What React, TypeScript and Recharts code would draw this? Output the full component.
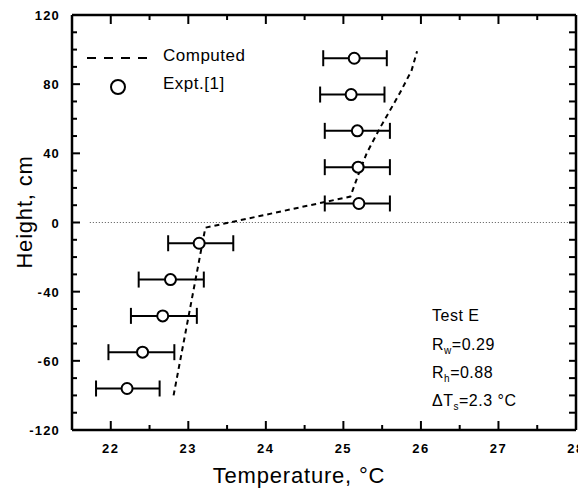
import { ComposedChart, Scatter, XAxis, YAxis, ErrorBar, ReferenceLine } from "recharts"

// experimental points (Expt.[1]) with their temperature spread
const exptTemp = [25.14, 25.1, 25.18, 25.19, 25.2, 23.14, 22.77, 22.67, 22.41, 22.21]
const exptHeight = [95, 74, 53, 32, 11, -12, -33, -54, -75, -96]
const exptLow = [24.74, 24.7, 24.76, 24.76, 24.76, 22.74, 22.36, 22.26, 21.97, 21.81]
const exptHigh = [25.56, 25.53, 25.6, 25.6, 25.6, 23.58, 23.2, 23.11, 22.82, 22.63]

// computed profile (dashed)
const computedTemp = [22.81, 23.22, 25.09, 25.2, 25.3, 25.47, 25.73, 25.88, 25.95]
const computedHeight = [-100, -3, 15, 28.5, 40, 54.5, 75, 88, 99]

const xTicks = [22, 22.5, 23, 23.5, 24, 24.5, 25, 25.5, 26, 26.5, 27, 27.5, 28]
const yTicks = [
  -120, -110, -100, -90, -80, -70, -60, -50, -40, -30, -20, -10, 0,
  10, 20, 30, 40, 50, 60, 70, 80, 90, 100, 110, 120,
]
// labels as printed on the original axis
const yTickLabels: Record<number, string> = {
  120: "120",
  80: "80",
  40: "40",
  0: "0",
  [-40]: "-40",
  [-80]: "-60",
  [-120]: "-120",
}

const expt = exptTemp.map((t, i) => ({
  t,
  h: exptHeight[i],
  errX: [t - exptLow[i], exptHigh[i] - t],
}))
const computed = computedTemp.map((t, i) => ({ t, h: computedHeight[i] }))

if (typeof document !== "undefined") document.body.style.overflow = "hidden"

const FONT = '"Liberation Sans", Arial, Helvetica, sans-serif'
// svg sits at the body's 8px margin; plot box in svg coords
const PLOT_TOP = 7
const PLOT_RIGHT = 568
// tickSize 8 + default tickMargin 2
const OFF = 10

function BottomTick({ x, y, payload }: any) {
  const v = Number(payload.value)
  const X = Number(x)
  const axis = Number(y) - OFF
  const major = Number.isInteger(v)
  const len = major ? 9 : 5
  return (
    <g>
      <line x1={X} x2={X} y1={axis} y2={axis - len} stroke="#000" strokeWidth={2} />
      <line x1={X} x2={X} y1={PLOT_TOP} y2={PLOT_TOP + len} stroke="#000" strokeWidth={2} />
      {major && (
        <text x={X} y={axis + 23} textAnchor="middle" fontFamily={FONT} fontWeight="bold" fontSize={13} letterSpacing={1.5} fill="#000">
          {v}
        </text>
      )}
    </g>
  )
}

function LeftTick({ x, y, payload }: any) {
  const axis = Number(x) + OFF
  const Y = Number(y)
  const label = yTickLabels[Number(payload.value)]
  return (
    <g>
      <path d={`M${axis},${Y}h${label !== undefined ? 8 : 5}`} stroke="#000" strokeWidth={2} />
      <path d={`M${PLOT_RIGHT},${Y}h-7`} stroke="#000" strokeWidth={2} />
      {label !== undefined && (
        <text x={axis - 12} y={Y + 5} textAnchor="end" fontFamily={FONT} fontWeight="bold" fontSize={13} letterSpacing={1.2} fill="#000">
          {label}
        </text>
      )}
    </g>
  )
}

// x-axis title, plus the legend and the test notes drawn in the same svg
function XTitle() {
  return (
    <g fontFamily={FONT} fill="#000">
      <text x={291} y={475} textAnchor="middle" fontSize={22} letterSpacing={0.8}>
        Temperature, °C
      </text>

      <line x1={79} x2={139} y1={50} y2={50} stroke="#000" strokeWidth={2} strokeDasharray="9 8" />
      <text x={155} y={53} fontSize={17} letterSpacing={0.5}>Computed</text>
      <circle cx={110} cy={79} r={7} fill="#fff" stroke="#000" strokeWidth={2} />
      <text x={155} y={81} fontSize={17} letterSpacing={0.5}>Expt.[1]</text>

      <text x={424} y={313} fontSize={16} letterSpacing={0.5}>Test E</text>
      <text x={424} y={342} fontSize={16} letterSpacing={0.5}>
        R<tspan fontSize={10} dy={4}>w</tspan>
        <tspan dy={-4}>=0.29</tspan>
      </text>
      <text x={424} y={370} fontSize={16} letterSpacing={0.5}>
        R<tspan fontSize={10} dy={4}>h</tspan>
        <tspan dy={-4}>=0.88</tspan>
      </text>
      <text x={424} y={398} fontSize={16} letterSpacing={0.5}>
        ΔT<tspan fontSize={10} dy={4}>s</tspan>
        <tspan dy={-4}>=2.3 °C</tspan>
      </text>
    </g>
  )
}

function YTitle() {
  return (
    <text x={24} y={204} textAnchor="middle" fontFamily={FONT} fontSize={22} letterSpacing={0.8} fill="#000" transform="rotate(-90 24 204)">
      Height, cm
    </text>
  )
}

function OpenCircle({ cx, cy }: any) {
  return <circle cx={cx} cy={cy} r={5.5} fill="#fff" stroke="#000" strokeWidth={2} />
}

export default function App() {
  const hiddenTick = { stroke: "transparent", strokeWidth: 1 }
  return (
    <div style={{ width: 586, height: 491, background: "#fff" }}>
      <ComposedChart width={586} height={491} margin={{ top: 6, right: 17, bottom: 8, left: -8 }}>
        <XAxis
          dataKey="t"
          type="number"
          domain={[21.5, 28]}
          ticks={xTicks}
          interval={0}
          height={61}
          tickSize={8}
          tickLine={hiddenTick}
          axisLine={{ stroke: "#000", strokeWidth: 2.5 }}
          tick={<BottomTick />}
          label={<XTitle />}
          allowDataOverflow
        />
        <XAxis
          xAxisId="top"
          orientation="top"
          dataKey="t"
          type="number"
          domain={[21.5, 28]}
          ticks={xTicks}
          height={1}
          tickSize={8}
          tickLine={hiddenTick}
          axisLine={{ stroke: "#000", strokeWidth: 2.5 }}
          tick={false}
          allowDataOverflow
        />
        <YAxis
          dataKey="h"
          type="number"
          domain={[-120, 120]}
          ticks={yTicks}
          interval={0}
          width={72}
          tickSize={8}
          tickLine={hiddenTick}
          axisLine={{ stroke: "#000", strokeWidth: 2.5 }}
          tick={<LeftTick />}
          label={<YTitle />}
          allowDataOverflow
        />
        <YAxis
          yAxisId="right"
          orientation="right"
          dataKey="h"
          type="number"
          domain={[-120, 120]}
          ticks={yTicks}
          width={1}
          tickSize={8}
          tickLine={hiddenTick}
          axisLine={{ stroke: "#000", strokeWidth: 2.5 }}
          tick={false}
          allowDataOverflow
        />
        <ReferenceLine segment={[{ x: 21.73, y: 0 }, { x: 28, y: 0 }]} stroke="#555" strokeDasharray="1 2" />
        <Scatter
          data={computed}
          line={{ stroke: "#000", strokeWidth: 2, strokeDasharray: "5 4" }}
          lineType="joint"
          shape={() => <g />}
          isAnimationActive={false}
        />
        <Scatter data={expt} shape={<OpenCircle />} isAnimationActive={false}>
          <ErrorBar dataKey="errX" direction="x" width={8} stroke="#000" strokeWidth={2} isAnimationActive={false} />
        </Scatter>
      </ComposedChart>
    </div>
  )
}
